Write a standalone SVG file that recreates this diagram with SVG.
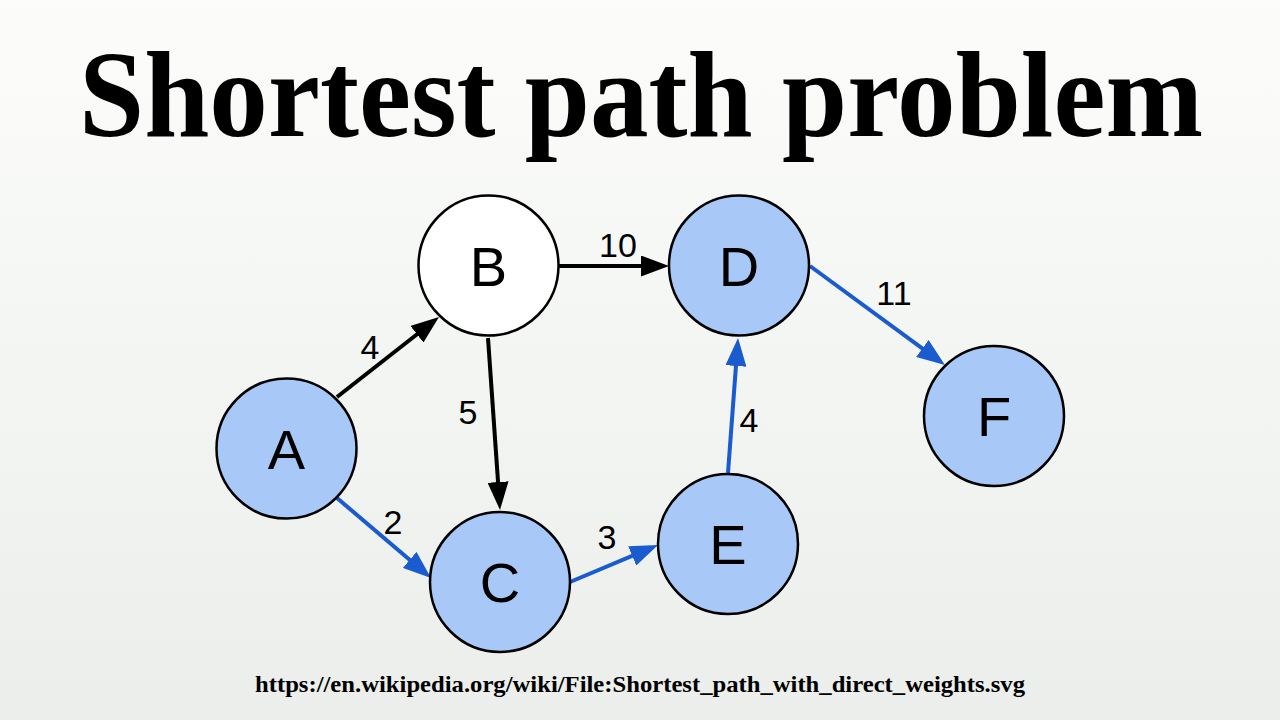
<svg xmlns="http://www.w3.org/2000/svg" width="1280" height="720" viewBox="0 0 1280 720">
<defs>
<linearGradient id="bg" x1="0" y1="0" x2="0" y2="1">
<stop offset="0" stop-color="#fcfdfb"/>
<stop offset="1" stop-color="#ebeeea"/>
</linearGradient>
<marker id="ab" markerUnits="userSpaceOnUse" markerWidth="28" markerHeight="21" refX="18" refY="10.5" orient="auto">
<path d="M0,0 L28,10.5 L0,21 z" fill="#000"/>
</marker>
<marker id="au" markerUnits="userSpaceOnUse" markerWidth="28" markerHeight="21" refX="18" refY="10.5" orient="auto">
<path d="M0,0 L28,10.5 L0,21 z" fill="#1a5bd0"/>
</marker>
</defs>
<style>
.title{font-family:"Liberation Serif","Times New Roman",serif;font-weight:bold;font-size:122px;fill:#000}
.url{font-family:"Liberation Serif","Times New Roman",serif;font-weight:bold;font-size:23px;fill:#000}
.node circle{stroke:#000;stroke-width:2.5}
.blue circle{fill:#a8c8f8}
.white circle{fill:#fff}
.node text{font-family:"Liberation Sans",Arial,sans-serif;font-size:56px;fill:#000;text-anchor:middle}
.e{fill:none;stroke-width:4}
.k{stroke:#000;marker-end:url(#ab)}
.u{stroke:#1a5bd0;marker-end:url(#au)}
.lbl{font-family:"Liberation Sans",Arial,sans-serif;font-size:34px;fill:#000;text-anchor:middle}
</style>
<rect width="1280" height="720" fill="url(#bg)"/>
<text class="title" x="79" y="136" textLength="1124" lengthAdjust="spacingAndGlyphs">Shortest path problem</text>
<g id="connectors">
<path class="e k" d="M337,397 L431.1,323.2"/>
<path class="e k" d="M488,338 L499.3,500"/>
<path class="e k" d="M557,266 L659,266"/>
<path class="e u" d="M337,498 L423.4,571.5"/>
<path class="e u" d="M570,582 L648.8,548.9"/>
<path class="e u" d="M728,473 L737.3,348"/>
<path class="e u" d="M810,266 L936.9,359.1"/>
</g>
<g id="edge-labels">
<text class="lbl" x="370" y="359">4</text>
<text class="lbl" x="468" y="424">5</text>
<text class="lbl" x="618" y="257">10</text>
<text class="lbl" x="393" y="534">2</text>
<text class="lbl" x="607" y="549">3</text>
<text class="lbl" x="749" y="432">4</text>
<text class="lbl" x="894" y="305">11</text>
</g>
<g id="node-A" class="node blue"><circle cx="286.5" cy="448.5" r="70"/><text x="286.5" y="468.5">A</text></g>
<g id="node-B" class="node white"><circle cx="488.5" cy="265.5" r="70"/><text x="488.5" y="285.5">B</text></g>
<g id="node-C" class="node blue"><circle cx="500" cy="582" r="70"/><text x="500" y="602">C</text></g>
<g id="node-D" class="node blue"><circle cx="739" cy="265.5" r="70"/><text x="739" y="285.5">D</text></g>
<g id="node-E" class="node blue"><circle cx="728" cy="544" r="70"/><text x="728" y="564">E</text></g>
<g id="node-F" class="node blue"><circle cx="994" cy="416" r="70"/><text x="994" y="436">F</text></g>
<text class="url" x="255" y="692" textLength="770" lengthAdjust="spacingAndGlyphs">https://en.wikipedia.org/wiki/File:Shortest_path_with_direct_weights.svg</text>
</svg>
